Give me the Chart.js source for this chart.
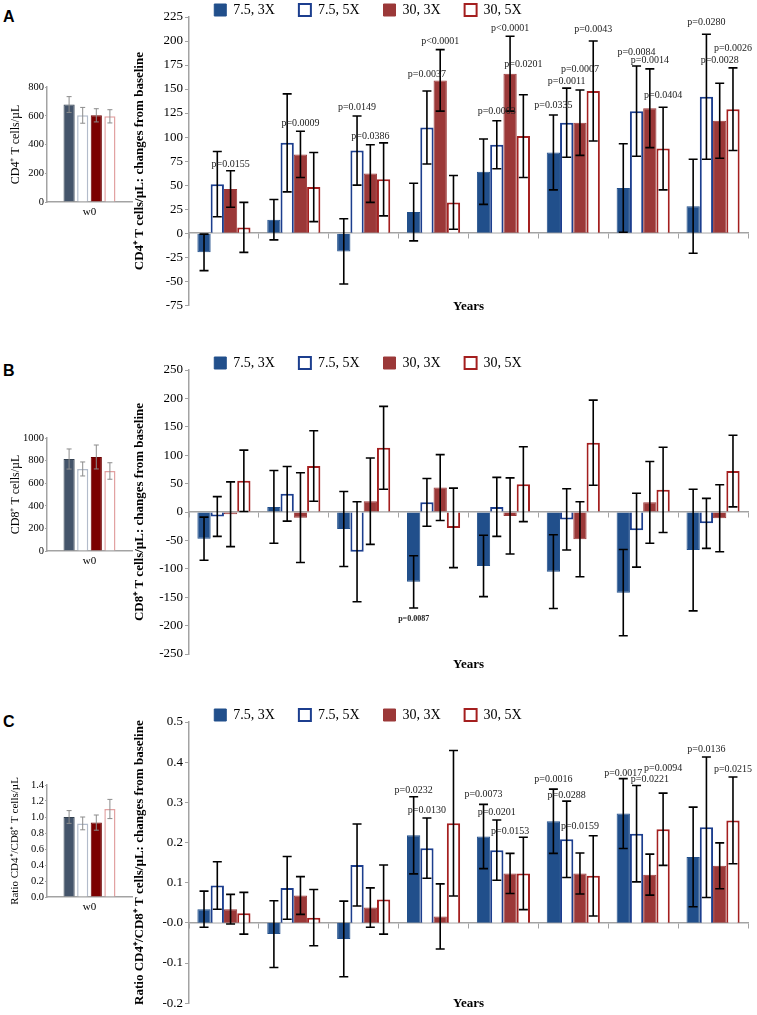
<!DOCTYPE html>
<html>
<head>
<meta charset="utf-8">
<script src="https://cdn.jsdelivr.net/npm/chart.js@4.4.1/dist/chart.umd.min.js"></script>
<style>
html, body { margin: 0; padding: 0; background: #fff; }
#page { position: relative; width: 757px; height: 1015px; overflow: hidden; }
canvas { position: absolute; left: 0; }
canvas.main { left: -12px; }
.tag { position: absolute; left: 3px; font: bold 16px "Liberation Sans", Arial, sans-serif; line-height: 16px; }
</style>
</head>
<body>
<div id="page">
  <div class="tag" style="top:9px">A</div>
  <div class="tag" style="top:363px">B</div>
  <div class="tag" style="top:714px">C</div>
  <canvas class="main" id="mainA" width="769" height="336" style="top:-21px"></canvas>
  <canvas class="main" id="mainB" width="769" height="340" style="top:332px"></canvas>
  <canvas class="main" id="mainC" width="769" height="329" style="top:684px"></canvas>
  <canvas id="insetA" width="140" height="143" style="top:77px"></canvas>
  <canvas id="insetB" width="140" height="141" style="top:428px"></canvas>
  <canvas id="insetC" width="140" height="140" style="top:775px"></canvas>
</div>
<script>
// categories
const years = ['1', '2', '3', '4', '5', '6', '7', '8+'];
const groups = ['7.5, 3X', '7.5, 5X', '30, 3X', '30, 5X'];
const baseWeek = ['w0'];

// A: CD4+ T cells/uL
const cd4Base = [678, 603, 603, 596];
const cd4BaseErr = [55, 55, 46, 46];
const cd4Low3 = [-20, 14, -19, 22, 64, 84, 47, 28];
const cd4Low3Err = [19, 21, 34, 30, 34, 39, 46, 49];
const cd4Low5 = [51, 94, 86, 110, 92, 115, 127, 142];
const cd4Low5Err = [34, 51, 36, 38, 25, 36, 47, 65];
const cd4High3 = [46, 82, 62, 159, 166, 115, 130, 117];
const cd4High3Err = [19, 24, 30, 32, 39, 34, 41, 39];
const cd4High5 = [6, 48, 56, 32, 101, 148, 88, 129];
const cd4High5Err = [26, 36, 38, 28, 43, 52, 43, 43];
// [year index, group index, text, value where the label sits]
const cd4P = [
  [0, 2, 'p=0.0155', 72], [1, 2, 'p=0.0009', 114],
  [2, 1, 'p=0.0149', 131], [2, 2, 'p=0.0386', 101],
  [3, 1, 'p=0.0037', 165], [3, 2, 'p<0.0001', 200],
  [4, 1, 'p=0.0003', 127], [4, 2, 'p<0.0001', 213], [4, 3, 'p=0.0201', 176],
  [5, 0, 'p=0.0335', 133], [5, 1, 'p=0.0011', 158], [5, 2, 'p=0.0007', 171], [5, 3, 'p=0.0043', 212],
  [6, 1, 'p=0.0084', 188], [6, 2, 'p=0.0014', 180], [6, 3, 'p=0.0404', 143],
  [7, 1, 'p=0.0280', 219], [7, 2, 'p=0.0028', 180], [7, 3, 'p=0.0026', 192]
];

// B: CD8+ T cells/uL
const cd8Base = [814, 726, 832, 708];
const cd8BaseErr = [89, 62, 106, 73];
const cd8Low3 = [-47, 9, -30, -123, -95, -105, -142, -67];
const cd8Low3Err = [38, 64, 66, 46, 54, 65, 76, 107];
const cd8Low5 = [-8, 32, -70, 17, 9, -13, -32, -20];
const cd8Low5Err = [35, 48, 88, 42, 52, 54, 65, 44];
const cd8High3 = [-4, -10, 19, 43, -7, -48, 17, -11];
const cd8High3Err = [57, 79, 76, 58, 67, 66, 72, 59];
const cd8High5 = [55, 81, 113, -28, 49, 122, 39, 72];
const cd8High5Err = [54, 62, 73, 70, 66, 75, 75, 63];
const cd8P = [[3, 0, 'p=0.0087', -188]];

// C: CD4+/CD8+ ratio
const ratioBase = [1.00, 0.92, 0.93, 1.10];
const ratioBaseErr = [0.08, 0.08, 0.095, 0.12];
const ratioLow3 = [0.034, -0.028, -0.040, 0.218, 0.215, 0.253, 0.272, 0.164];
const ratioLow3Err = [0.045, 0.083, 0.094, 0.096, 0.080, 0.080, 0.087, 0.124];
const ratioLow5 = [0.093, 0.087, 0.144, 0.186, 0.181, 0.208, 0.222, 0.238];
const ratioLow5Err = [0.059, 0.078, 0.102, 0.075, 0.075, 0.095, 0.120, 0.175];
const ratioHigh3 = [0.034, 0.068, 0.038, 0.016, 0.123, 0.123, 0.120, 0.142];
const ratioHigh3Err = [0.037, 0.047, 0.049, 0.081, 0.050, 0.051, 0.051, 0.057];
const ratioHigh5 = [0.024, 0.013, 0.058, 0.248, 0.123, 0.117, 0.233, 0.255];
const ratioHigh5Err = [0.052, 0.070, 0.086, 0.181, 0.090, 0.100, 0.090, 0.108];
const ratioP = [
  [3, 0, 'p=0.0232', 0.330], [3, 1, 'p=0.0130', 0.281],
  [4, 0, 'p=0.0073', 0.320], [4, 1, 'p=0.0201', 0.276], [4, 2, 'p=0.0153', 0.228],
  [5, 0, 'p=0.0016', 0.356], [5, 1, 'p=0.0288', 0.318], [5, 2, 'p=0.0159', 0.239],
  [6, 0, 'p=0.0017', 0.371], [6, 2, 'p=0.0221', 0.358], [6, 3, 'p=0.0094', 0.384],
  [7, 1, 'p=0.0136', 0.432], [7, 3, 'p=0.0215', 0.383]
];

const serif = '"Liberation Serif", "Times New Roman", serif';
const axisGray = '#a3a3a3';
const fills = ['#214f8b', '#ffffff', '#9b3838', '#ffffff'];
const edges = ['#214f8b', '#1c3e8e', '#9b3838', '#a41f1f'];
const insetFills = ['#44546a', '#ffffff', '#7b0000', '#ffffff'];
const insetEdges = ['#33404f', '#b3bccb', '#6a0000', '#e2a2a2'];

function errorBarPlugin(color, width, cap) {
  return {
    id: 'errorBars',
    afterDatasetsDraw(chart) {
      const ctx = chart.ctx, y = chart.scales.y;
      ctx.save();
      ctx.strokeStyle = color;
      ctx.lineWidth = width;
      chart.data.datasets.forEach((ds, i) => {
        chart.getDatasetMeta(i).data.forEach((bar, j) => {
          const top = y.getPixelForValue(ds.data[j] + ds.errors[j]);
          const bot = y.getPixelForValue(ds.data[j] - ds.errors[j]);
          ctx.beginPath();
          ctx.moveTo(bar.x, top); ctx.lineTo(bar.x, bot);
          ctx.moveTo(bar.x - cap, top); ctx.lineTo(bar.x + cap, top);
          ctx.moveTo(bar.x - cap, bot); ctx.lineTo(bar.x + cap, bot);
          ctx.stroke();
        });
      });
      ctx.restore();
    }
  };
}

function pValuePlugin(items, font) {
  return {
    id: 'pValues',
    afterDatasetsDraw(chart) {
      const ctx = chart.ctx, y = chart.scales.y;
      ctx.save();
      ctx.font = font;
      ctx.fillStyle = '#222';
      ctx.textAlign = 'center';
      ctx.textBaseline = 'middle';
      items.forEach(([cat, grp, text, val]) => {
        const bar = chart.getDatasetMeta(grp).data[cat];
        ctx.fillText(text, bar.x, y.getPixelForValue(val));
      });
      ctx.restore();
    }
  };
}

// keep the legend row short so the plot starts right under it
function legendHeightPlugin(h) {
  return {
    id: 'legendHeight',
    beforeInit(chart) {
      const fit = chart.legend.fit;
      chart.legend.fit = function () { fit.call(this); this.height = h; };
    }
  };
}

function mainChart(id, p) {
  return new Chart(document.getElementById(id), {
    type: 'bar',
    data: {
      labels: years,
      datasets: p.series.map((vals, i) => ({
        label: groups[i], data: vals, errors: p.errors[i],
        backgroundColor: fills[i], borderColor: edges[i],
        borderWidth: i % 2 ? 2 : 1
      }))
    },
    options: {
      responsive: false, animation: false,
      layout: { padding: { right: 9 } },
      datasets: { bar: { categoryPercentage: 0.76, barPercentage: 1 } },
      scales: {
        x: {
          type: 'category', position: { y: 0 }, offset: true,
          grid: { offset: true, drawOnChartArea: false, tickLength: 5, color: axisGray, lineWidth: 1 },
          border: { color: axisGray, width: 1.5 },
          ticks: { display: false }
        },
        x2: {
          type: 'category', position: 'bottom', offset: true,
          grid: { display: false, drawTicks: false }, border: { display: false },
          ticks: { padding: p.labelPad, color: '#000', font: { family: serif, size: 13 } },
          title: { display: true, text: 'Years', color: '#000', padding: 0,
                   font: { family: serif, size: 13, weight: 'bold' } },
          afterFit: s => { s.height = p.xHeight; }
        },
        y: {
          min: p.min, max: p.max,
          ticks: { stepSize: p.step, padding: 2, color: '#000', font: { family: serif, size: 13 },
                   callback: p.fmt || (v => v) },
          grid: { drawOnChartArea: false, tickLength: 4, color: axisGray },
          border: { color: axisGray, width: 1.5 },
          title: { display: true, text: p.title, color: '#000', padding: { top: 144, bottom: 0 },
                   font: { family: serif, size: 13, weight: 'bold' } },
          afterFit: s => { s.width = 201; }
        }
      },
      plugins: {
        legend: {
          position: 'top',
          labels: { boxWidth: 12, boxHeight: 12, padding: 24, color: '#000',
                    font: { family: serif, size: 14 } }
        },
        tooltip: { enabled: false }
      }
    },
    plugins: [errorBarPlugin('#000', 1.6, 4.5), pValuePlugin(p.pvals, p.pFont), legendHeightPlugin(38)]
  });
}

function insetChart(id, p) {
  return new Chart(document.getElementById(id), {
    type: 'bar',
    data: {
      labels: baseWeek,
      datasets: p.values.map((v, i) => ({
        label: groups[i], data: [v], errors: [p.errors[i]],
        backgroundColor: insetFills[i], borderColor: insetEdges[i],
        borderWidth: i % 2 ? 1.5 : 1
      }))
    },
    options: {
      responsive: false, animation: false,
      layout: { padding: { top: 10, right: 8 } },
      datasets: { bar: { categoryPercentage: 0.64, barPercentage: 0.82 } },
      scales: {
        x: {
          offset: true,
          grid: { display: false, drawTicks: false },
          border: { color: axisGray, width: 1.5 },
          ticks: { padding: 4, color: '#000', font: { family: serif, size: 11 } },
          afterFit: s => { s.height = 18; }
        },
        y: {
          min: 0, max: p.max,
          ticks: { stepSize: p.step, padding: 1, color: '#000', font: { family: serif, size: 10.5 },
                   callback: p.fmt || (v => v) },
          grid: { drawOnChartArea: false, tickLength: 2, color: axisGray },
          border: { color: axisGray, width: 1.5 },
          title: { display: true, text: p.title, color: '#000', padding: { top: 9, bottom: 0 },
                   font: { family: serif, size: p.titleSize } },
          afterFit: s => { s.width = 47; }
        }
      },
      plugins: { legend: { display: false }, tooltip: { enabled: false } }
    },
    plugins: [errorBarPlugin('#8c8c8c', 1, 2.5)]
  });
}

const oneDecimal = v => Number(v).toFixed(1);

mainChart('mainA', {
  series: [cd4Low3, cd4Low5, cd4High3, cd4High5],
  errors: [cd4Low3Err, cd4Low5Err, cd4High3Err, cd4High5Err],
  min: -75, max: 225, step: 25, labelPad: -19, xHeight: 9,
  title: 'CD4\u207A T cells/\u00B5L: changes from baseline',
  pvals: cd4P, pFont: '10px ' + serif
});
mainChart('mainB', {
  series: [cd8Low3, cd8Low5, cd8High3, cd8High5],
  errors: [cd8Low3Err, cd8Low5Err, cd8High3Err, cd8High5Err],
  min: -250, max: 250, step: 50, labelPad: -14, xHeight: 18,
  title: 'CD8\u207A T cells/\u00B5L: changes from baseline',
  pvals: cd8P, pFont: 'bold 8px ' + serif
});
mainChart('mainC', {
  series: [ratioLow3, ratioLow5, ratioHigh3, ratioHigh5],
  errors: [ratioLow3Err, ratioLow5Err, ratioHigh3Err, ratioHigh5Err],
  min: -0.2, max: 0.5, step: 0.1, labelPad: -19.5, xHeight: 8, fmt: oneDecimal,
  title: 'Ratio CD4\u207A/CD8\u207A T cells/\u00B5L: changes from baseline',
  pvals: ratioP, pFont: '10px ' + serif
});

insetChart('insetA', { values: cd4Base, errors: cd4BaseErr, max: 800, step: 100,
  title: 'CD4\u207A T cells/\u00B5L', titleSize: 12 });
insetChart('insetB', { values: cd8Base, errors: cd8BaseErr, max: 1000, step: 200,
  title: 'CD8\u207A T cells/\u00B5L', titleSize: 12 });
insetChart('insetC', { values: ratioBase, errors: ratioBaseErr, max: 1.4, step: 0.2, fmt: oneDecimal,
  title: 'Ratio CD4\u207A/CD8\u207A T cells/\u00B5L', titleSize: 11 });
</script>
</body>
</html>
